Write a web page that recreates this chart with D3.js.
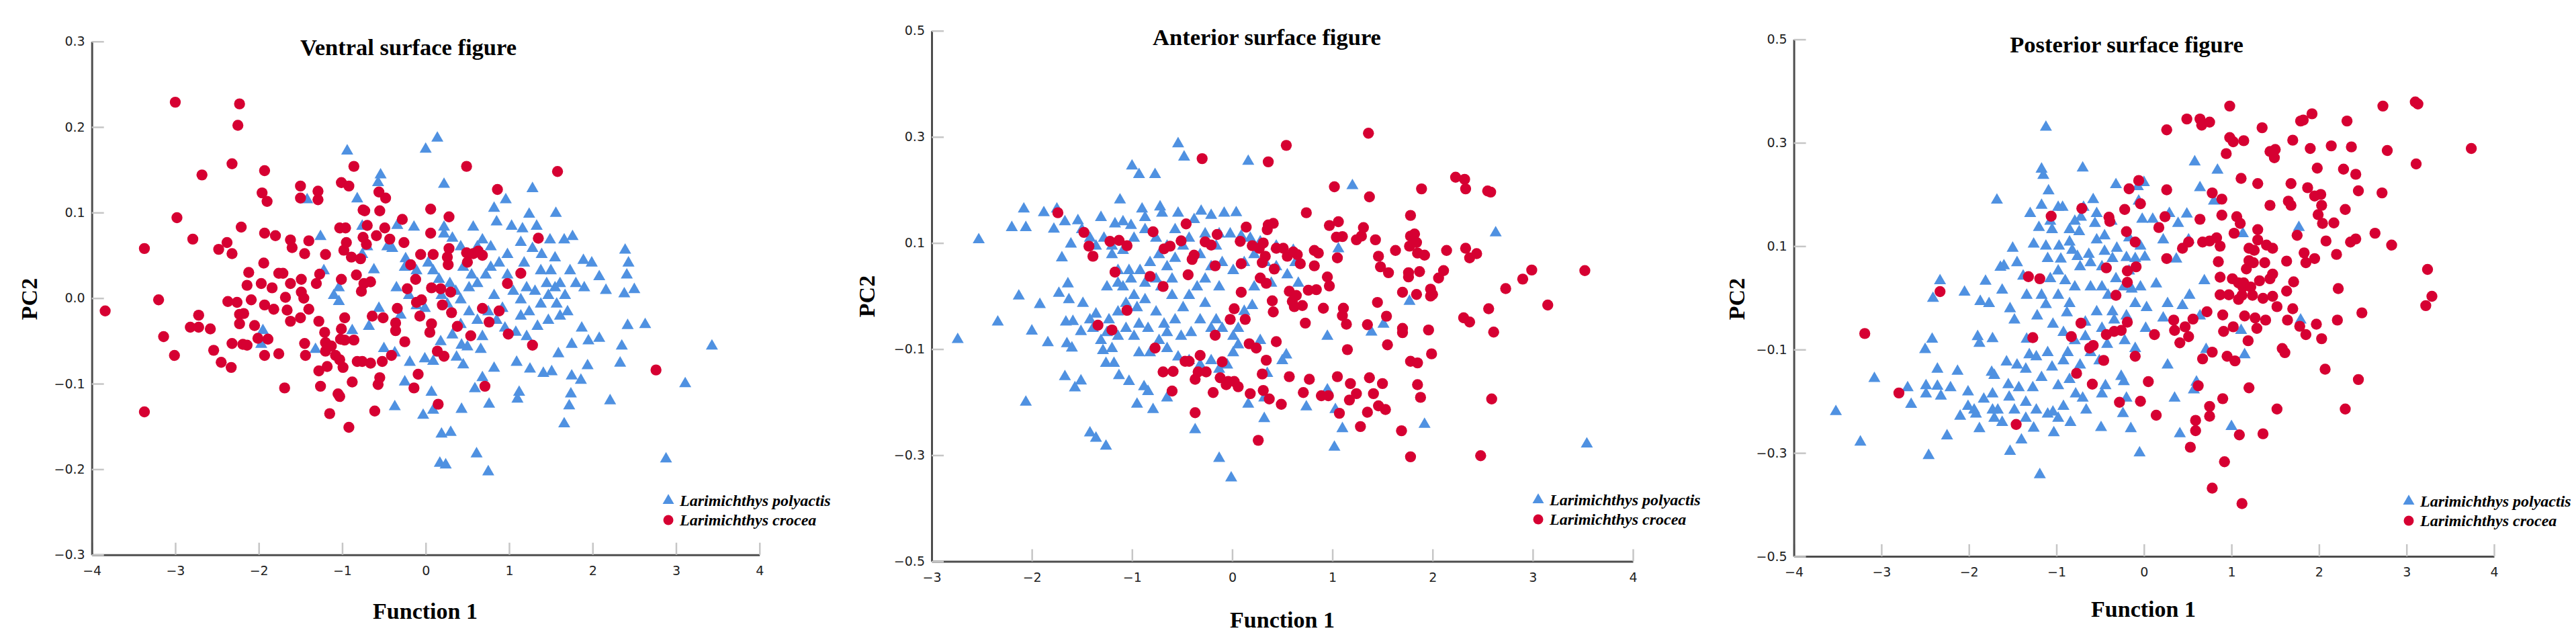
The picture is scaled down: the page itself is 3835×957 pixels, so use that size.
<!DOCTYPE html>
<html lang="en">
<head>
  <meta charset="UTF-8">
  <title>Discriminant scatter plots</title>
  <script src="https://d3js.org/d3.v7.min.js"></script>
  <style>
    body { margin: 0; background: #fff; }
    .tick text { font-family: "DejaVu Sans", sans-serif; font-size: 19px; fill: #222; }
  </style>
</head>
<body>
  <div id="chart"></div>

  <script>
    // ---- data (Function 1, PC2) ----
    const seriesNames = ["Larimichthys polyactis", "Larimichthys crocea"];
    const panelTitles = ["Ventral surface figure", "Anterior surface figure", "Posterior surface figure"];
    const xLabel = "Function 1";
    const yLabel = "PC2";

    const ventralX = [-4, -3, -2, -1, 0, 1, 2, 3, 4];
    const ventralY = [-0.3, -0.2, -0.1, 0.0, 0.1, 0.2, 0.3];
    const anteriorX = [-3, -2, -1, 0, 1, 2, 3, 4];
    const anteriorY = [-0.5, -0.3, -0.1, 0.1, 0.3, 0.5];
    const posteriorX = [-4, -3, -2, -1, 0, 1, 2, 3, 4];
    const posteriorY = [-0.5, -0.3, -0.1, 0.1, 0.3, 0.5];

    const ventralPolyactis = [
      [-0.94,0.172],[0.0,0.174],[0.14,0.187],[-0.54,0.144],[-0.57,0.135],[-0.82,0.116],[-1.42,0.115],[0.22,0.133],
      [1.28,0.128],[0.96,0.115],[0.82,0.105],[1.24,0.098],[1.56,0.099],[0.85,0.089],[1.03,0.084],[1.16,0.081],
      [1.33,0.084],[0.57,0.083],[0.22,0.083],[-0.34,0.085],[-0.14,0.083],[-0.76,0.084],[-1.26,0.072],[1.76,0.072],
      [1.66,0.068],[1.49,0.068],[1.14,0.065],[1.28,0.058],[1.39,0.051],[1.55,0.047],[2.39,0.056],[2.43,0.041],
      [1.89,0.044],[1.99,0.041],[2.41,0.027],[2.08,0.025],[1.73,0.032],[1.50,0.032],[2.5,0.010],[2.38,0.005],
      [2.16,0.009],[1.9,0.012],[1.80,0.017],[2.63,-0.031],[2.42,-0.032],[3.43,-0.056],[3.11,-0.1],[2.88,-0.188],
      [2.35,-0.056],[2.33,-0.076],[2.21,-0.12],[2.08,-0.047],[1.95,-0.05],[1.87,-0.035],[1.94,-0.079],[1.86,-0.096],
      [1.75,-0.091],[1.74,-0.112],[1.72,-0.126],[1.66,-0.147],[1.75,-0.054],[1.59,-0.065],[1.51,-0.086],[1.41,-0.088],
      [1.25,-0.083],[1.09,-0.075],[1.12,-0.11],[1.1,-0.118],[0.76,-0.124],[0.61,-0.182],[0.75,-0.203],[0.59,-0.106],
      [0.68,-0.093],[0.82,-0.082],[0.66,-0.06],[0.43,-0.13],[0.30,-0.157],[0.19,-0.159],[0.24,-0.195],[0.17,-0.193],
      [0.09,-0.131],[-0.03,-0.137],[0.07,-0.11],[-0.37,-0.127],[-0.25,-0.098],[-0.19,-0.075],[-0.01,-0.071],[0.09,-0.074],
      [0.18,-0.051],[0.45,-0.078],[0.43,-0.055],[0.50,-0.057],[0.37,-0.069],[0.16,-0.064],[-0.37,-0.064],[-0.5,-0.059],
      [-0.68,-0.033],[-0.88,-0.038],[-1.32,-0.06],[-1.95,-0.038],[-1.97,-0.054],[-1.04,-0.004],[-1.1,0.003],[-1.04,0.012],
      [-1.22,0.032],[-0.62,0.033],[-0.56,-0.012],[-0.35,0.012],[-0.25,0.036],[-0.24,0.046],[-0.11,0.032],[0.03,0.041],
      [0.09,0.032],[0.16,0.022],[0.19,0.003],[0.29,0.017],[0.36,0.008],[0.42,-0.002],[0.52,0.012],[0.62,0.017],
      [0.72,0.027],[0.78,0.036],[0.88,0.041],[0.98,0.027],[1.05,0.008],[1.14,-0.002],[1.21,0.012],[1.31,0.008],
      [1.38,-0.007],[1.47,0.003],[1.57,-0.007],[1.67,0.003],[1.70,-0.016],[1.61,-0.021],[1.47,-0.026],[1.34,-0.033],
      [1.21,-0.045],[1.08,-0.04],[0.95,-0.035],[0.85,-0.026],[0.75,-0.016],[0.62,-0.026],[0.52,-0.016],[0.42,-0.031],
      [0.32,-0.043],[0.68,-0.045],[1.14,-0.021],[1.24,-0.016],[0.82,0.003],[0.92,-0.012],[0.62,0.06],[0.68,0.068],
      [0.78,0.06],[0.42,0.06],[0.32,0.07],[0.22,0.075],[-0.40,0.058],[-0.46,0.06],[-0.70,0.06],[-0.76,0.051],
      [-0.2,0.003],[-0.11,-0.009],[-0.01,-0.012],[-0.30,-0.02],[0.26,-0.007],[0.45,0.036],[0.55,0.027],[0.98,0.051],
      [1.18,0.041],[1.38,0.032],[1.45,0.017],[1.55,0.012],[1.61,0.017]
    ];

    const ventralCrocea = [
      [-3.0,0.229],[-2.23,0.227],[-2.25,0.202],[-2.68,0.144],[-2.32,0.157],[-1.93,0.149],[-2.98,0.094],[-2.21,0.083],
      [-2.79,0.069],[-3.37,0.058],[-2.48,0.057],[-2.38,0.065],[-2.32,0.052],[-3.2,-0.002],[-3.84,-0.015],[-3.14,-0.045],
      [-3.01,-0.067],[-3.37,-0.133],[-2.82,-0.034],[-2.72,-0.02],[-2.72,-0.034],[-2.58,-0.036],[-2.54,-0.061],[-2.45,-0.075],
      [-2.33,-0.081],[-2.32,-0.053],[-2.19,-0.054],[-2.14,-0.055],[-2.37,-0.004],[-2.26,-0.005],[-2.23,-0.019],[-2.23,-0.03],
      [-2.18,-0.018],[-2.09,-0.002],[-2.05,-0.032],[-2.12,0.03],[-2.14,0.015],[-1.97,0.017],[-1.94,0.041],[-1.93,0.076],
      [-1.96,0.123],[-1.90,0.113],[-1.80,0.073],[-1.84,0.012],[-1.93,-0.008],[-1.82,-0.013],[-2.01,-0.047],[-1.89,-0.048],
      [-1.93,-0.067],[-1.76,-0.065],[-1.76,0.029],[-1.71,0.029],[-1.68,0.001],[-1.66,-0.014],[-1.62,0.017],[-1.62,0.068],
      [-1.6,0.059],[-1.62,-0.027],[-1.5,-0.023],[-1.49,0.022],[-1.49,0.007],[-1.46,0.0],[-1.45,0.052],[-1.5,0.131],
      [-1.5,0.117],[-1.40,0.067],[-1.40,-0.013],[-1.45,-0.053],[-1.44,-0.067],[-1.69,-0.105],[-1.29,0.125],[-1.29,0.115],
      [-1.31,0.017],[-1.27,0.028],[-1.2,0.051],[-1.28,-0.027],[-1.21,-0.04],[-1.2,-0.052],[-1.2,-0.062],[-1.28,-0.085],
      [-1.18,-0.08],[-1.26,-0.103],[-1.15,-0.135],[-1.13,-0.056],[-1.08,-0.067],[-1.05,-0.112],[-1.03,-0.115],[-1.03,-0.072],
      [-1.02,-0.048],[-1.01,-0.036],[-0.97,-0.023],[-0.99,-0.081],[-0.97,-0.049],[-1.01,0.022],[-0.98,0.056],[-0.95,0.065],
      [-1.03,0.082],[-0.96,0.082],[-1.01,0.135],[-0.92,0.131],[-0.86,0.154],[-0.92,-0.151],[-0.88,-0.098],[-0.86,-0.049],
      [-0.83,0.027],[-0.89,0.048],[-0.78,0.046],[-0.82,-0.074],[-0.76,-0.074],[-0.77,0.008],[-0.74,0.017],[-0.75,0.071],
      [-0.75,0.103],[-0.70,0.085],[-0.73,0.102],[-0.71,0.063],[-0.66,0.019],[-0.64,-0.021],[-0.66,-0.076],[-0.61,-0.132],
      [-0.57,-0.101],[-0.55,-0.093],[-0.52,-0.074],[-0.55,0.102],[-0.56,0.124],[-0.48,0.117],[-0.59,0.073],[-0.49,0.082],
      [-0.43,0.069],[-0.51,-0.023],[-0.41,-0.067],[-0.36,-0.029],[-0.36,-0.038],[-0.25,-0.051],[-0.26,0.065],[-0.28,0.092],
      [-0.34,-0.012],[-0.18,0.039],[-0.22,0.011],[-0.12,0.022],[-0.14,-0.105],[-0.09,-0.089],[-0.11,-0.005],[-0.07,-0.021],
      [-0.05,-0.002],[-0.06,0.051],[0.06,0.104],[0.06,0.076],[0.09,0.051],[0.07,0.012],[0.07,-0.03],[0.05,-0.04],
      [0.14,-0.062],[0.22,-0.068],[0.15,-0.124],[0.18,0.011],[0.2,-0.008],[0.28,0.058],[0.26,0.048],[0.27,0.039],
      [0.28,0.095],[0.30,0.007],[0.31,-0.017],[0.38,-0.033],[0.49,0.154],[0.49,0.053],[0.5,0.042],[0.57,0.052],
      [0.63,0.055],[0.68,0.05],[0.54,-0.044],[0.68,-0.012],[0.76,-0.028],[0.71,-0.103],[0.86,0.127],[0.88,-0.015],
      [0.98,0.017],[0.99,-0.042],[1.14,0.029],[1.28,-0.055],[1.35,0.07],[1.58,0.148],[2.76,-0.084]
    ];

    const anteriorPolyactis = [
      [-2.74,-0.082],[-2.53,0.106],[-2.34,-0.049],[-2.2,0.129],[-2.08,0.164],[-2.06,0.129],[-2.13,0.0],[-2.0,-0.066],
      [-2.06,-0.2],[-1.92,-0.016],[-1.88,0.157],[-1.78,0.126],[-1.75,0.164],[-1.7,0.072],[-1.67,0.14],[-1.73,0.005],
      [-1.64,0.023],[-1.63,-0.007],[-1.66,-0.049],[-1.59,-0.048],[-1.84,-0.088],[-1.65,-0.09],[-1.6,-0.098],[-1.67,-0.152],
      [-1.57,-0.173],[-1.51,-0.16],[-1.61,0.098],[-1.54,0.142],[-1.49,-0.014],[-1.51,-0.067],[-1.42,-0.258],[-1.36,-0.268],
      [-1.26,-0.283],[-1.36,-0.034],[-1.39,-0.061],[-1.31,-0.084],[-1.29,-0.103],[-1.26,-0.127],[-1.18,-0.127],[-1.13,-0.15],
      [-1.03,-0.161],[-0.95,-0.204],[-0.79,-0.214],[-0.88,-0.171],[-0.84,-0.18],[-0.65,-0.192],[-0.37,-0.252],[-0.13,-0.306],
      [-0.01,-0.343],[0.16,-0.204],[0.32,-0.231],[0.32,-0.192],[0.5,-0.122],[0.54,-0.111],[0.35,-0.146],[0.28,-0.084],
      [0.74,-0.209],[0.95,-0.177],[1.03,-0.214],[1.02,-0.285],[1.1,-0.25],[0.95,-0.076],[1.39,-0.068],[1.51,-0.053],
      [1.92,-0.242],[3.54,-0.279],[2.63,0.119],[1.77,-0.01],[1.2,0.208],[1.06,0.089],[0.16,0.254],[-0.54,0.287],
      [-0.48,0.262],[-1.0,0.245],[-0.93,0.229],[-0.77,0.229],[-1.12,0.181],[-1.31,0.148],[-1.17,0.136],[-1.09,0.14],
      [-1.01,0.133],[-0.9,0.164],[-0.87,0.148],[-0.72,0.168],[-0.7,0.156],[-0.54,0.156],[-0.31,0.16],[-0.21,0.152],
      [-0.08,0.156],[0.04,0.157],[-0.38,0.144],[-0.57,0.125],[-0.13,0.117],[-0.02,0.117],[0.09,0.113],[0.18,0.109],
      [0.28,0.102],[0.44,0.094],[0.61,0.086],[0.63,0.063],[0.66,0.024],[0.55,0.04],[0.39,0.024],[0.22,0.017],
      [0.2,-0.018],[0.12,-0.029],[0.06,-0.061],[0.01,-0.076],[0.06,-0.092],[0.01,-0.107],[-0.05,-0.13],[-0.13,-0.138],
      [-0.21,-0.122],[-0.32,-0.13],[-0.43,-0.122],[-0.54,-0.115],[-0.65,-0.099],[-0.73,-0.084],[-0.82,-0.107],[-0.93,-0.107],
      [-0.98,-0.076],[-1.06,-0.061],[-1.14,-0.076],[-1.2,-0.099],[-1.23,-0.045],[-1.14,-0.03],[-1.06,-0.014],[-0.95,-0.022],
      [-0.87,-0.007],[-0.76,-0.03],[-0.68,-0.053],[-0.57,-0.045],[-0.49,-0.022],[-0.43,0.001],[-0.35,0.017],[-0.27,-0.014],
      [-0.16,-0.045],[-0.1,-0.061],[-0.21,-0.061],[-0.32,-0.045],[-0.41,-0.069],[-0.51,-0.076],[-0.65,-0.069],[-0.84,-0.061],
      [-0.93,-0.053],[-1.09,0.017],[-1.01,0.032],[-0.92,0.048],[-0.82,0.063],[-0.73,0.078],[-0.65,0.055],[-0.57,0.071],
      [-0.49,0.094],[-0.32,0.078],[-0.21,0.055],[-0.1,0.063],[0.01,0.048],[0.12,0.063],[0.22,0.078],[0.33,0.063],
      [0.44,0.055],[-1.14,0.048],[-1.03,0.048],[-1.20,0.078],[-1.14,0.024],[-1.25,0.017],[-1.36,0.094],[-1.42,0.109],
      [-1.5,0.125],[-1.28,0.109],[-1.20,0.094],[-1.09,0.086],[-0.98,0.109],[-0.87,0.125],[-0.76,0.109],[-0.65,0.094],
      [-0.43,0.109],[-0.27,0.117],[-0.16,0.094],[-0.87,0.024],[-0.71,0.017],[-0.6,0.001],[-0.98,0.001],[-1.25,-0.069],
      [-1.42,-0.045],[-0.27,0.032],[-0.13,0.017],[-0.6,0.032],[-0.76,0.032]
    ];

    const anteriorCrocea = [
      [-1.74,0.157],[-1.48,0.12],[-1.43,0.094],[-1.39,0.075],[-1.22,0.103],[-1.13,0.105],[-1.05,0.095],[-1.17,0.045],
      [-1.34,-0.055],[-1.2,-0.064],[-1.05,-0.027],[-0.82,0.037],[-0.69,0.018],[-0.79,0.121],[-0.68,0.089],[-0.62,0.094],
      [-0.51,0.104],[-0.46,0.136],[-0.44,0.04],[-0.4,0.069],[-0.38,0.077],[-0.3,0.259],[-0.27,0.102],[-0.21,0.096],
      [-0.15,0.116],[-0.17,0.057],[0.08,0.103],[0.14,0.13],[0.09,0.061],[0.09,0.007],[0.02,-0.024],[-0.02,-0.044],
      [0.13,-0.044],[-0.17,-0.074],[-0.77,-0.098],[-0.69,-0.143],[-0.59,-0.142],[-0.60,-0.179],[-0.47,-0.123],[-0.43,-0.123],
      [-0.32,-0.112],[-0.37,-0.157],[-0.37,-0.22],[-0.34,-0.143],[-0.26,-0.143],[-0.10,-0.124],[-0.12,-0.154],[-0.06,-0.167],
      [-0.04,-0.161],[0.02,-0.161],[0.06,-0.171],[-0.19,-0.182],[0.18,-0.184],[0.26,-0.272],[0.17,-0.09],[0.24,-0.098],
      [0.3,-0.147],[0.31,-0.178],[0.34,-0.121],[0.37,-0.194],[0.49,-0.204],[0.44,-0.086],[0.36,0.253],[0.54,0.284],
      [0.2,0.095],[0.27,0.09],[0.31,0.1],[0.35,0.125],[0.36,0.134],[0.41,0.137],[0.33,0.075],[0.3,0.063],
      [0.28,0.034],[0.34,0.024],[0.42,0.051],[0.4,-0.009],[0.41,-0.03],[0.44,0.09],[0.51,0.09],[0.55,0.075],
      [0.61,0.083],[0.65,0.078],[0.68,0.061],[0.57,0.009],[0.6,-0.01],[0.64,0.001],[0.62,-0.02],[0.7,-0.018],
      [0.73,-0.051],[0.74,0.157],[0.76,0.011],[0.82,0.057],[0.82,0.086],[0.86,0.081],[0.84,0.012],[0.91,-0.023],
      [0.89,-0.188],[0.96,-0.188],[0.77,-0.157],[0.57,-0.152],[0.71,-0.182],[0.95,0.036],[0.97,0.019],[1.02,0.206],
      [0.97,0.133],[1.06,0.14],[1.04,0.111],[1.1,0.112],[1.05,0.072],[1.1,-0.037],[1.11,-0.023],[1.14,-0.053],
      [1.15,-0.101],[1.05,-0.152],[1.07,-0.221],[1.18,-0.165],[1.17,-0.196],[1.24,-0.184],[1.28,-0.246],[1.24,0.106],
      [1.29,0.113],[1.31,0.129],[1.36,0.307],[1.37,0.187],[1.43,0.106],[1.46,0.075],[1.48,0.055],[1.45,-0.012],
      [1.35,-0.054],[1.37,-0.154],[1.41,-0.184],[1.35,-0.219],[1.46,-0.207],[1.53,-0.214],[1.50,-0.165],[1.55,-0.092],
      [1.54,-0.038],[1.56,0.044],[1.63,0.086],[1.69,-0.254],[1.70,0.007],[1.70,-0.061],[1.70,-0.069],[1.78,0.152],
      [1.78,0.113],[1.77,0.094],[1.82,0.117],[1.84,0.101],[1.92,0.077],[1.85,0.081],[1.76,0.044],[1.76,0.036],
      [1.87,0.046],[1.84,0.003],[1.78,-0.123],[1.85,-0.126],[1.85,-0.167],[1.88,-0.191],[1.78,-0.303],[1.89,0.202],
      [1.96,-0.064],[1.99,-0.109],[1.98,0.013],[2.0,0.003],[1.98,0.0],[2.06,0.034],[2.11,0.048],[2.14,0.086],
      [2.23,0.224],[2.32,0.22],[2.33,0.202],[2.33,0.09],[2.37,0.072],[2.44,0.08],[2.31,-0.041],[2.37,-0.049],
      [2.55,0.198],[2.58,0.196],[2.56,-0.024],[2.61,-0.068],[2.59,-0.194],[2.48,-0.301],[2.73,0.014],[2.9,0.032],
      [2.99,0.049],[3.15,-0.017],[3.52,0.048]
    ];

    const posteriorPolyactis = [
      [-3.52,-0.22],[-3.24,-0.279],[-3.08,-0.156],[-2.7,-0.174],[-2.66,-0.206],[-2.49,-0.17],[-2.49,-0.186],[-2.46,-0.305],
      [-2.5,-0.1],[-2.42,-0.08],[-2.36,-0.138],[-2.36,-0.171],[-2.32,-0.19],[-2.25,-0.267],[-2.33,0.033],[-2.41,-0.001],
      [-2.21,-0.174],[-2.13,-0.142],[-2.1,-0.229],[-2.05,0.011],[-2.01,-0.182],[-2.01,-0.21],[-1.94,-0.217],[-1.88,-0.253],
      [-1.87,-0.007],[-1.9,-0.075],[-1.88,-0.088],[-1.83,-0.196],[-1.81,0.032],[-1.77,-0.011],[-1.73,-0.079],[-1.74,-0.144],
      [-1.71,-0.233],[-1.68,0.189],[-1.64,0.059],[-1.62,0.015],[-1.6,0.062],[-1.71,-0.15],[-1.67,-0.217],[-1.62,-0.241],
      [-1.57,-0.124],[-1.55,-0.168],[-1.54,-0.192],[-1.53,-0.021],[-1.53,-0.297],[-1.5,0.096],[-1.48,-0.043],[-1.45,0.068],
      [-1.45,-0.13],[-1.43,-0.174],[-1.4,-0.275],[-1.38,0.042],[-1.34,0.005],[-1.34,-0.08],[-1.31,-0.11],[-1.27,-0.174],
      [-1.26,-0.252],[-1.22,-0.035],[-1.2,0.136],[-1.19,-0.342],[-1.17,0.249],[-1.15,0.237],[-1.12,0.33],[-1.12,0.1],
      [-1.1,0.076],[-1.12,-0.013],[-1.09,0.207],[-1.07,0.148],[-1.05,0.132],[-1.05,-0.134],[-1.04,-0.221],[-1.03,-0.261],
      [-0.98,0.175],[-0.97,0.1],[-0.95,0.075],[-0.93,0.175],[-0.9,0.033],[-0.88,-0.029],[-0.87,-0.106],[-0.85,-0.158],
      [-0.84,-0.241],[-0.82,0.092],[-0.79,0.021],[-0.78,-0.186],[-0.76,0.08],[-0.74,0.128],[-0.72,0.156],[-0.7,0.251],
      [-0.69,0.175],[-0.67,-0.047],[-0.66,-0.217],[-0.63,0.084],[-0.61,0.021],[-0.58,0.19],[-0.56,0.144],[-0.54,0.112],
      [-0.51,-0.122],[-0.49,-0.251],[-0.45,0.09],[-0.45,0.12],[-0.44,-0.17],[-0.41,0.005],[-0.37,0.148],[-0.34,-0.043],
      [-0.32,0.219],[-0.31,0.096],[-0.26,-0.152],[-0.24,-0.224],[-0.22,-0.083],[-0.2,0.078],[-0.15,-0.253],[-0.14,0.017],
      [-0.1,-0.011],[-0.07,0.215],[-0.06,0.187],[-0.02,0.152],[0.0,0.223],[0.01,0.079],[-0.05,-0.3],[0.03,-0.019],
      [0.1,0.152],[0.14,0.027],[0.22,0.112],[0.22,-0.039],[0.27,-0.13],[0.29,0.163],[0.35,-0.194],[0.37,0.075],
      [0.39,0.144],[0.41,-0.263],[0.44,-0.015],[0.49,0.162],[0.51,0.112],[0.57,-0.178],[0.58,0.263],[0.6,-0.163],
      [0.64,0.213],[0.69,0.033],[0.71,-0.1],[0.8,0.187],[0.84,0.247],[1.0,-0.249],[1.11,-0.063],[1.13,0.124],
      [1.15,-0.11],[1.77,0.136],[1.79,-0.043],[-1.3,0.163],[-1.26,0.104],[-1.17,0.179],[-0.85,0.108],[-0.73,0.06],
      [-0.98,0.052],[-1.07,0.037],[-1.17,0.005],[-0.98,0.005],[-0.85,-0.011],[-1.04,-0.051],[-0.92,-0.067],[-0.79,-0.083],
      [-0.67,-0.075],[-0.54,-0.027],[-0.48,0.021],[-0.32,0.037],[-0.23,0.021],[-0.36,-0.027],[-0.48,-0.059],[-0.42,-0.09],
      [-0.61,-0.106],[-0.73,-0.13],[-0.92,-0.122],[-1.1,-0.106],[-1.23,-0.114],[-1.35,-0.138],[-1.17,-0.154],[-0.98,-0.17],
      [-1.35,-0.202],[-1.23,-0.217],[-1.48,-0.217],[-1.1,-0.225],[-0.92,-0.21],[-0.7,-0.194],[-0.48,-0.186],[-0.2,-0.194],
      [-0.23,-0.162],[-0.1,-0.098],[0.02,-0.059],[-0.2,-0.035],[-0.04,0.021],[-0.17,0.052],[-0.04,0.1],[-0.17,0.116],
      [-0.48,0.06],[-0.61,0.068],[-0.36,0.076],[-0.1,0.076],[-0.54,0.163],[-0.79,0.148],[-0.85,0.132],[-1.73,-0.186],
      [-1.73,-0.217],[-1.92,-0.225],[-1.35,-0.233],[-0.98,-0.233],[0.52,0.005],[0.64,-0.035],[0.27,-0.011]
    ];

    const posteriorCrocea = [
      [-3.19,-0.069],[-2.8,-0.184],[-2.33,0.012],[-1.46,-0.245],[-1.32,0.041],[-1.19,0.037],[-1.27,-0.077],[-1.06,0.158],
      [-0.83,-0.075],[-0.77,-0.146],[-0.72,-0.049],[-0.71,0.173],[-0.62,-0.097],[-0.58,-0.092],[-0.59,-0.167],[-0.46,-0.121],
      [-0.43,0.058],[-0.43,-0.071],[-0.4,0.156],[-0.39,0.148],[-0.34,-0.065],[-0.32,0.005],[-0.26,-0.063],[-0.28,-0.202],
      [-0.22,0.171],[-0.2,0.128],[-0.19,0.052],[-0.19,0.03],[-0.19,-0.047],[-0.17,0.211],[-0.1,0.108],[-0.09,0.06],
      [-0.1,-0.113],[-0.06,0.227],[-0.04,0.182],[-0.04,-0.2],[0.05,-0.162],[0.12,-0.071],[0.14,-0.227],[0.17,0.136],
      [0.24,0.157],[0.26,0.076],[0.26,0.209],[0.26,0.325],[0.34,-0.043],[0.35,-0.063],[0.41,-0.087],[0.44,0.096],
      [0.47,-0.056],[0.49,0.346],[0.51,0.108],[0.51,-0.075],[0.53,-0.289],[0.56,-0.041],[0.59,-0.257],[0.59,-0.237],
      [0.62,-0.17],[0.64,0.152],[0.64,0.346],[0.66,0.334],[0.67,-0.118],[0.67,0.108],[0.75,0.34],[0.75,0.11],
      [0.72,-0.027],[0.75,-0.21],[0.75,-0.229],[0.78,0.203],[0.78,-0.105],[0.78,-0.368],[0.83,0.116],[0.85,0.07],
      [0.87,0.1],[0.87,0.04],[0.87,0.006],[0.89,0.191],[0.89,0.16],[0.9,-0.033],[0.91,-0.065],[0.9,-0.195],
      [0.92,-0.317],[0.94,0.279],[0.95,-0.113],[0.97,0.006],[0.98,0.371],[0.98,0.31],[1.02,0.302],[1.01,0.037],
      [1.02,-0.056],[1.03,0.125],[1.04,-0.122],[1.06,0.157],[1.08,0.029],[1.08,-0.003],[1.09,-0.265],[1.1,0.144],
      [1.11,0.231],[1.12,0.005],[1.12,-0.398],[1.13,0.021],[1.14,0.029],[1.14,0.304],[1.15,-0.035],[1.17,0.056],
      [1.19,-0.083],[1.2,-0.174],[1.2,0.096],[1.2,0.072],[1.22,0.021],[1.24,0.005],[1.25,0.068],[1.26,0.092],
      [1.27,-0.039],[1.29,-0.059],[1.3,0.221],[1.3,0.112],[1.3,0.132],[1.32,0.033],[1.35,0.329],[1.36,-0.263],
      [1.36,-0.001],[1.38,0.068],[1.39,-0.043],[1.40,0.102],[1.44,0.179],[1.44,0.283],[1.44,0.037],[1.47,0.096],
      [1.47,0.046],[1.47,0.003],[1.49,0.271],[1.5,0.287],[1.52,-0.017],[1.52,-0.215],[1.58,-0.098],[1.61,-0.106],
      [1.63,0.071],[1.63,0.013],[1.64,-0.043],[1.65,0.187],[1.68,0.221],[1.68,0.179],[1.70,0.305],[1.71,0.031],
      [1.70,-0.021],[1.75,0.121],[1.78,-0.055],[1.79,0.342],[1.82,0.344],[1.83,0.087],[1.85,0.068],[1.85,-0.071],
      [1.87,0.213],[1.90,0.289],[1.92,0.356],[1.95,0.197],[1.95,0.076],[1.97,-0.051],[1.98,0.251],[1.99,0.161],
      [2.02,0.2],[2.03,0.179],[2.04,0.144],[2.03,-0.079],[2.07,-0.138],[2.08,0.11],[2.14,0.294],[2.17,0.145],
      [2.2,0.084],[2.22,0.018],[2.21,-0.043],[2.28,0.249],[2.30,0.171],[2.30,-0.215],[2.32,0.342],[2.36,0.108],
      [2.37,0.292],[2.42,0.239],[2.42,0.114],[2.45,0.207],[2.45,-0.158],[2.49,-0.029],[2.64,0.125],[2.72,0.203],
      [2.73,0.371],[2.78,0.285],[2.83,0.102],[3.1,0.379],[3.13,0.375],[3.11,0.259],[3.24,0.055],[3.22,-0.015],
      [3.29,0.003],[3.74,0.289]
    ];

    // ---- layout for the three panels ----
    const width = 3835;
    const height = 957;
    const blue = "#4f91e1";
    const red = "#d60032";

    const panels = [
      { title: panelTitles[0], xTicks: ventralX, yTicks: ventralY, series: [ventralPolyactis, ventralCrocea],
        left: 136.7, right: 1130.7, top: 61.7, bottom: 825.7,
        titlePos: [608, 82], xLabelPos: [633, 921], yLabelPos: [55, 445], legendPos: [995, 745] },
      { title: panelTitles[1], xTicks: anteriorX, yTicks: anteriorY, series: [anteriorPolyactis, anteriorCrocea],
        left: 1387, right: 2431, top: 45.8, bottom: 835.4,
        titlePos: [1886, 67], xLabelPos: [1909, 934], yLabelPos: [1302, 441], legendPos: [2290, 744] },
      { title: panelTitles[2], xTicks: posteriorX, yTicks: posteriorY, series: [posteriorPolyactis, posteriorCrocea],
        left: 2670.6, right: 3713, top: 58.6, bottom: 828,
        titlePos: [3166, 78], xLabelPos: [3191, 918], yLabelPos: [2597, 445], legendPos: [3586, 746] }
    ];

    const svg = d3.select("#chart")
      .append("svg")
      .attr("width", width)
      .attr("height", height)
      .style("display", "block")
      .style("background", "#fff");

    const triangle = d3.symbol().type(d3.symbolTriangle).size(140);
    const legendTriangle = d3.symbol().type(d3.symbolTriangle).size(125);

    panels.forEach(p => drawPanel(p));

    function drawPanel(p) {
      const x = d3.scaleLinear()
        .domain(d3.extent(p.xTicks))
        .range([p.left, p.right]);

      const y = d3.scaleLinear()
        .domain(d3.extent(p.yTicks))
        .range([p.bottom, p.top]);

      const g = svg.append("g");

      // points: blue triangles first, red circles on top
      g.append("g").selectAll("path")
        .data(p.series[0])
        .enter().append("path")
        .attr("d", triangle)
        .attr("transform", d => "translate(" + x(d[0]) + "," + y(d[1]) + ")")
        .attr("fill", blue);

      g.append("g").selectAll("circle")
        .data(p.series[1])
        .enter().append("circle")
        .attr("cx", d => x(d[0]))
        .attr("cy", d => y(d[1]))
        .attr("r", 8.2)
        .attr("fill", red);

      // axes: dark line, light inner ticks
      const xAxis = g.append("g")
        .attr("transform", "translate(0," + p.bottom + ")")
        .call(d3.axisBottom(x).tickValues(p.xTicks).tickFormat(d3.format("d"))
          .tickSize(-18).tickSizeOuter(0).tickPadding(17));

      const yAxis = g.append("g")
        .attr("transform", "translate(" + p.left + ",0)")
        .call(d3.axisLeft(y).tickValues(p.yTicks).tickFormat(d3.format(".1f"))
          .tickSize(-18).tickSizeOuter(0).tickPadding(10));

      [xAxis, yAxis].forEach(a => {
        a.select(".domain").attr("stroke", "#4d4d4d").attr("stroke-width", 3);
        a.selectAll(".tick line").attr("stroke", "#c6c6c6").attr("stroke-width", 2.5);
        a.selectAll(".tick text").attr("fill", "#222");
      });

      // titles and axis labels
      g.append("text")
        .attr("x", p.titlePos[0])
        .attr("y", p.titlePos[1])
        .attr("text-anchor", "middle")
        .style("font-family", "Liberation Serif, serif")
        .style("font-weight", "bold")
        .style("font-size", "34.5px")
        .text(p.title);

      g.append("text")
        .attr("x", p.xLabelPos[0])
        .attr("y", p.xLabelPos[1])
        .attr("text-anchor", "middle")
        .style("font-family", "Liberation Serif, serif")
        .style("font-weight", "bold")
        .style("font-size", "34px")
        .text(xLabel);

      g.append("text")
        .attr("transform", "translate(" + p.yLabelPos[0] + "," + p.yLabelPos[1] + ") rotate(-90)")
        .attr("text-anchor", "middle")
        .style("font-family", "Liberation Serif, serif")
        .style("font-weight", "bold")
        .style("font-size", "34px")
        .text(yLabel);

      // legend
      const legend = g.selectAll(".legend")
        .data(seriesNames)
        .enter().append("g")
        .attr("class", "legend")
        .attr("transform", (d, i) => "translate(" + p.legendPos[0] + "," + (p.legendPos[1] + i * 29) + ")");

      legend.filter((d, i) => i === 0).append("path")
        .attr("d", legendTriangle)
        .attr("fill", blue);

      legend.filter((d, i) => i === 1).append("circle")
        .attr("r", 7.5)
        .attr("fill", red);

      legend.append("text")
        .attr("x", 17)
        .attr("y", 8)
        .style("font-family", "Liberation Serif, serif")
        .style("font-weight", "bold")
        .style("font-style", "italic")
        .style("font-size", "24px")
        .text(d => d);
    }
  </script>
</body>
</html>
